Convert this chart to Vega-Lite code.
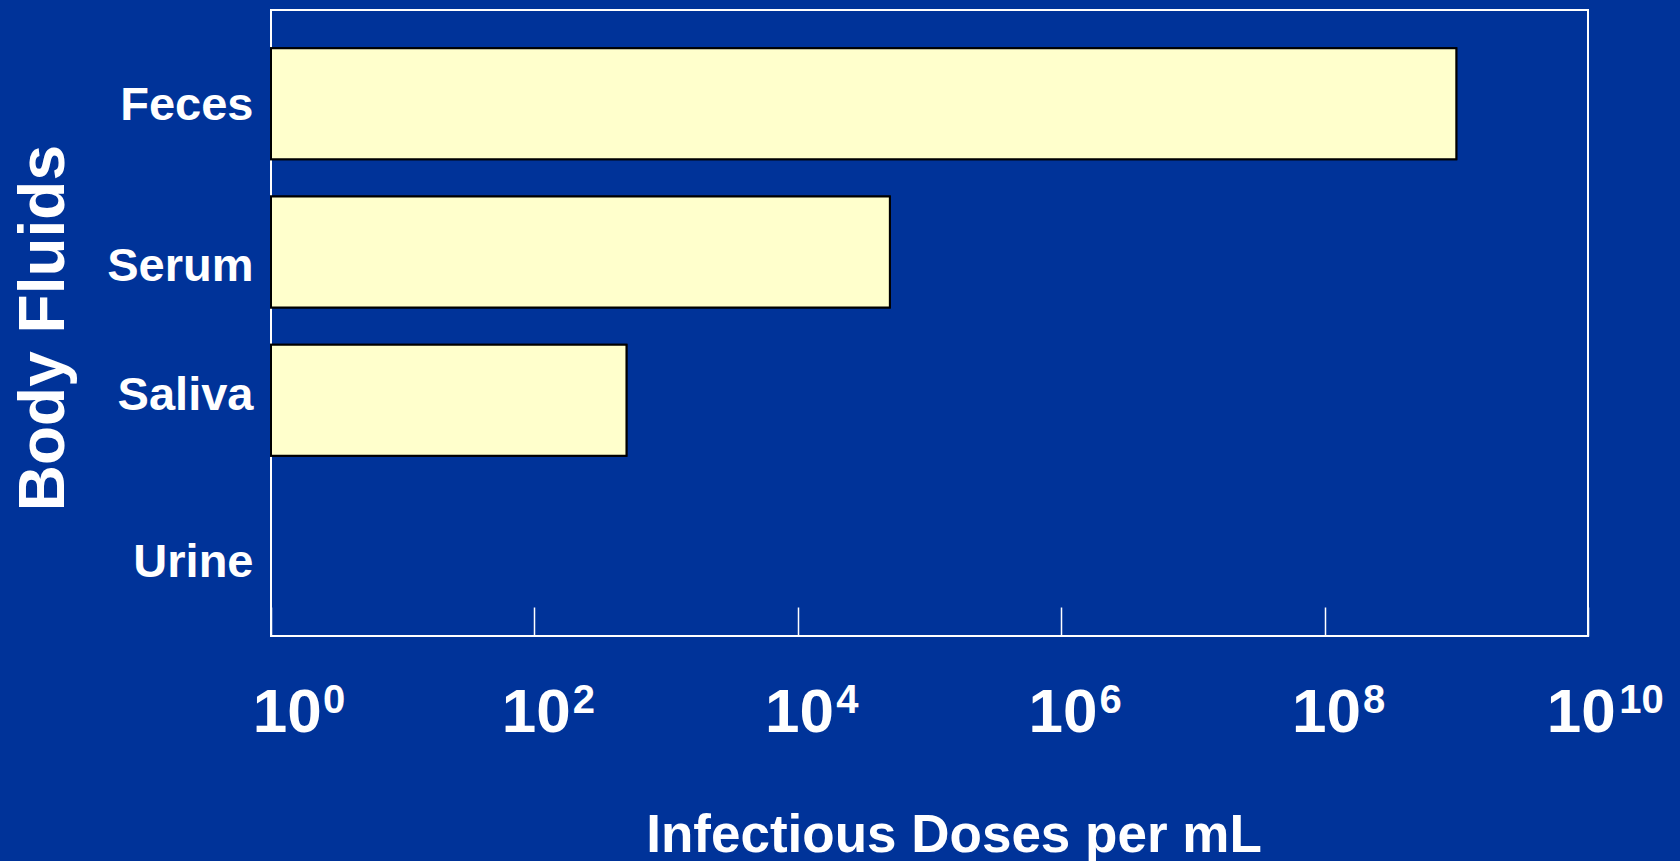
{
  "$schema": "https://vega.github.io/schema/vega-lite/v6.json",
  "autosize": {"type": "none"},
  "width": 1317,
  "height": 626,
  "padding": {"left": 271, "top": 10, "right": 92, "bottom": 225},
  "background": "#003399",
  "config": {
    "view": {"stroke": "#FFFFFF", "strokeWidth": 2},
    "font": "Liberation Sans"
  },
  "data": {
    "values": [
      {"fluid": "Feces", "doses": 1000000000},
      {"fluid": "Serum", "doses": 50000},
      {"fluid": "Saliva", "doses": 500},
      {"fluid": "Urine", "doses": null}
    ]
  },
  "encoding": {
    "y": {
      "field": "fluid",
      "type": "nominal",
      "sort": null,
      "scale": {"domain": ["Feces", "Serum", "Saliva", "Urine"], "paddingInner": 0.2515, "paddingOuter": 0.2364, "align": 0.545},
      "axis": {
        "title": "Body Fluids",
        "titleFont": "Liberation Sans",
        "titleFontWeight": "bold",
        "titleFontSize": 64,
        "titleColor": "#FFFFFF",
        "titleAngle": 270,
        "titleAlign": "center",
        "titleBaseline": "alphabetic",
        "titleX": -208,
        "titleY": 317.6,
        "domain": false,
        "ticks": false,
        "labelFont": "Liberation Sans",
        "labelFontWeight": "bold",
        "labelFontSize": 47,
        "labelColor": "#FFFFFF",
        "labelAlign": "right",
        "labelBaseline": "alphabetic",
        "labelPadding": 18,
        "labelOffset": {
          "condition": [
            {"test": "datum.value === 'Serum'", "value": 29},
            {"test": "datum.value === 'Saliva'", "value": 10},
            {"test": "datum.value === 'Urine'", "value": 28}
          ],
          "value": 16
        }
      }
    },
    "x2": {"datum": 1}
  },
  "layer": [
    {
      "mark": {"type": "bar", "fill": "#FFFFCC", "stroke": "#000000", "strokeWidth": 2},
      "encoding": {
        "x": {
          "field": "doses",
          "type": "quantitative",
          "scale": {"type": "log", "domain": [1, 10000000000], "nice": false},
          "axis": {
            "orient": "bottom",
            "values": [1, 100, 10000, 1000000, 100000000, 10000000000],
            "labelExpr": "'10'",
            "title": "Infectious Doses per mL",
            "titleFont": "Liberation Sans",
            "titleFontWeight": "bold",
            "titleFontSize": 53,
            "titleColor": "#FFFFFF",
            "titleAlign": "center",
            "titleBaseline": "alphabetic",
            "titleX": 682.5,
            "titleY": 215,
            "domain": false,
            "grid": false,
            "ticks": true,
            "tickSize": -29,
            "tickWidth": 1.5,
            "tickColor": "#FFFFFF",
            "labelFont": "Liberation Sans",
            "labelFontWeight": "bold",
            "labelFontSize": 62,
            "labelColor": "#FFFFFF",
            "labelAlign": "center",
            "labelBaseline": "alphabetic",
            "labelPadding": 124.8,
            "labelFlush": false,
            "labelOverlap": false,
            "labelBound": false,
            "labelOffset": {
              "condition": [
                {"test": "datum.value == 1", "value": 15.7},
                {"test": "datum.value == 10000000000", "value": -7.3}
              ],
              "value": 1.3
            }
          }
        }
      }
    },
    {
      "mark": {"type": "bar", "fill": "#FFFFCC", "stroke": "#000000", "strokeWidth": 2},
      "encoding": {
        "x": {
          "field": "doses",
          "type": "quantitative",
          "scale": {"type": "log", "domain": [1, 10000000000], "nice": false},
          "axis": {
            "orient": "top",
            "values": [1, 100, 10000, 1000000, 100000000, 10000000000],
            "labelExpr": "format(log(datum.value) / LN10, '.0f')",
            "title": null,
            "domain": false,
            "grid": false,
            "ticks": false,
            "labelFont": "Liberation Sans",
            "labelFontWeight": "bold",
            "labelFontSize": 40,
            "labelColor": "#FFFFFF",
            "labelAlign": "center",
            "labelBaseline": "alphabetic",
            "labelPadding": -702.7,
            "labelFlush": false,
            "labelOverlap": false,
            "labelBound": false,
            "labelOffset": {
              "condition": [
                {"test": "datum.value == 1", "value": 62.5},
                {"test": "datum.value == 10000000000", "value": 53}
              ],
              "value": 49
            }
          }
        }
      }
    }
  ],
  "resolve": {"axis": {"x": "independent"}}
}
